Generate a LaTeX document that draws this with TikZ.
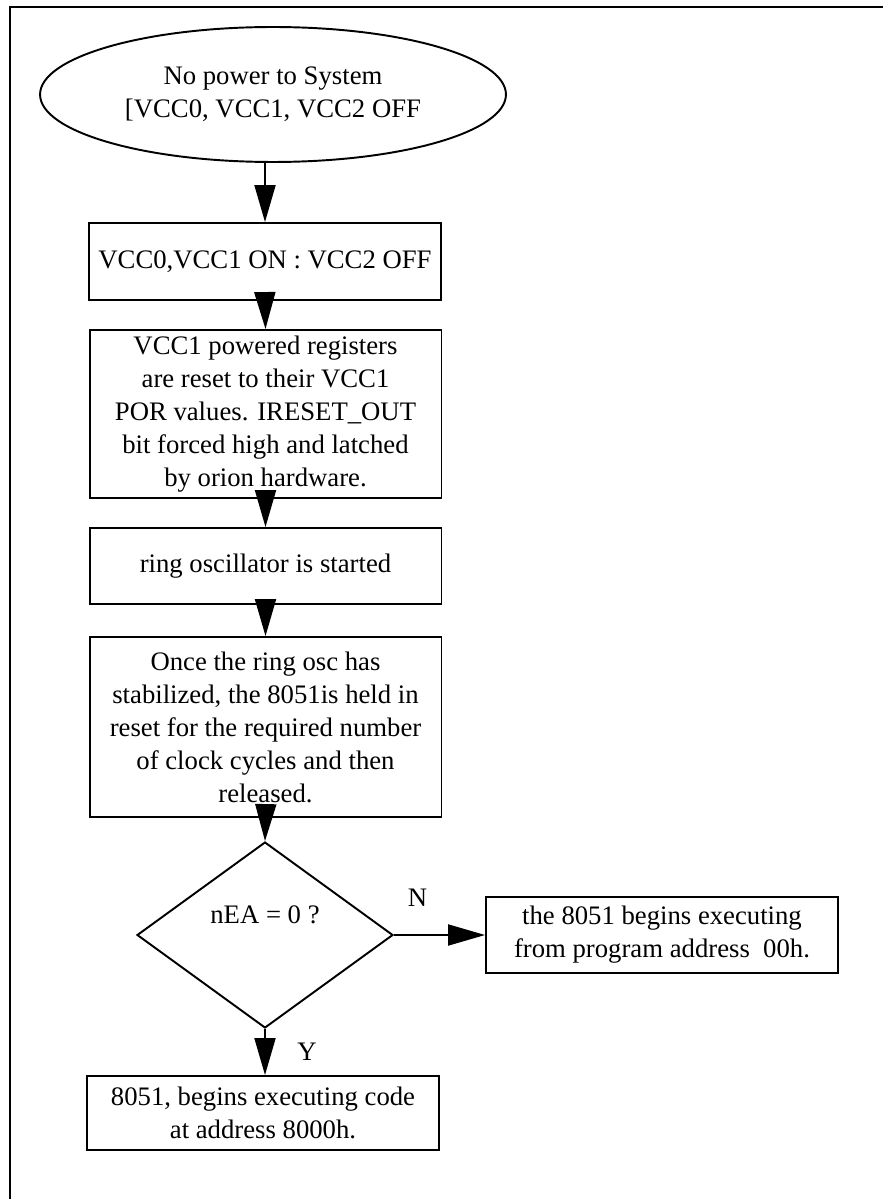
\documentclass[tikz,border=0pt]{standalone}
\usepackage{fontspec}
\setmainfont{Liberation Serif}
\usetikzlibrary{arrows.meta,shapes.geometric}
\tikzset{
    >={Triangle[length=0.74cm,width=0.42cm]},
    every node/.style={font=\fontsize{15.2}{18.8}\selectfont},
    procbox/.style={rectangle,draw,line width=1.1pt,inner sep=0pt,align=center,minimum width=#1},
    procbox/.default=7.04cm,
    startend/.style={ellipse,draw,line width=1.1pt,inner sep=0pt,align=center,minimum width=9.32cm,minimum height=2.7cm},
    decision/.style={diamond,draw,line width=1.1pt,inner sep=0pt,minimum width=5.12cm,minimum height=3.72cm},
    flow/.style={line width=1.1pt,->}
}

\begin{document}
\begin{tikzpicture}[x=0.02cm,y=-0.02cm]
    \useasboundingbox (0,0) rectangle (883,1199);
    \draw[line width=1.6pt] (883,7) -- (10,7) -- (10,1199);

    \node[startend] (power) at (273,94.5) {No power to System\\{}[VCC0, VCC1, VCC2 OFF};
    \node[procbox, minimum height=1.54cm] (vccon) at (265,261.5) {VCC0,VCC1 ON : VCC2 OFF};
    \node[procbox, minimum height=3.36cm] (regreset) at (265.5,414) {VCC1 powered registers\\are reset to their VCC1\\POR values. IRESET\_OUT\\bit forced high and latched\\by orion hardware.};
    \node[procbox, minimum height=1.52cm] (ringosc) at (265.5,566) {ring oscillator is started};
    \node[procbox, minimum height=3.6cm] (release) at (265.5,727) {Once the ring osc has\\stabilized, the 8051is held in\\reset for the required number\\of clock cycles and then\\released.};

    % decision on nEA
    \node[decision] (nea) at (265,935) {};
    \node at ([yshift=0.4cm]nea.center) {nEA = 0 ?};

    \node[procbox, minimum height=1.52cm] (prog) at (662,935) {the 8051 begins executing\\from program address~ 00h.};
    \node[procbox, minimum height=1.48cm] (code) at (263,1113) {8051, begins executing code\\at address 8000h.};

    \draw[flow] (power.south -| vccon.north) -- (vccon.north);
    \draw[flow] (vccon.south) -- (regreset.north);
    \draw[flow] (regreset.south) -- (ringosc.north);
    \draw[flow] (ringosc.south) -- (release.north);
    \draw[flow] (release.south) -- (nea.north);
    \draw[flow] (nea.east) -- node[pos=0.26, yshift=0.74cm] {N} (nea.east -| prog.west);
    \draw[flow] (nea.south) -- node[pos=0.5, xshift=0.84cm] {Y} (nea.south |- code.north);
\end{tikzpicture}
\end{document}
